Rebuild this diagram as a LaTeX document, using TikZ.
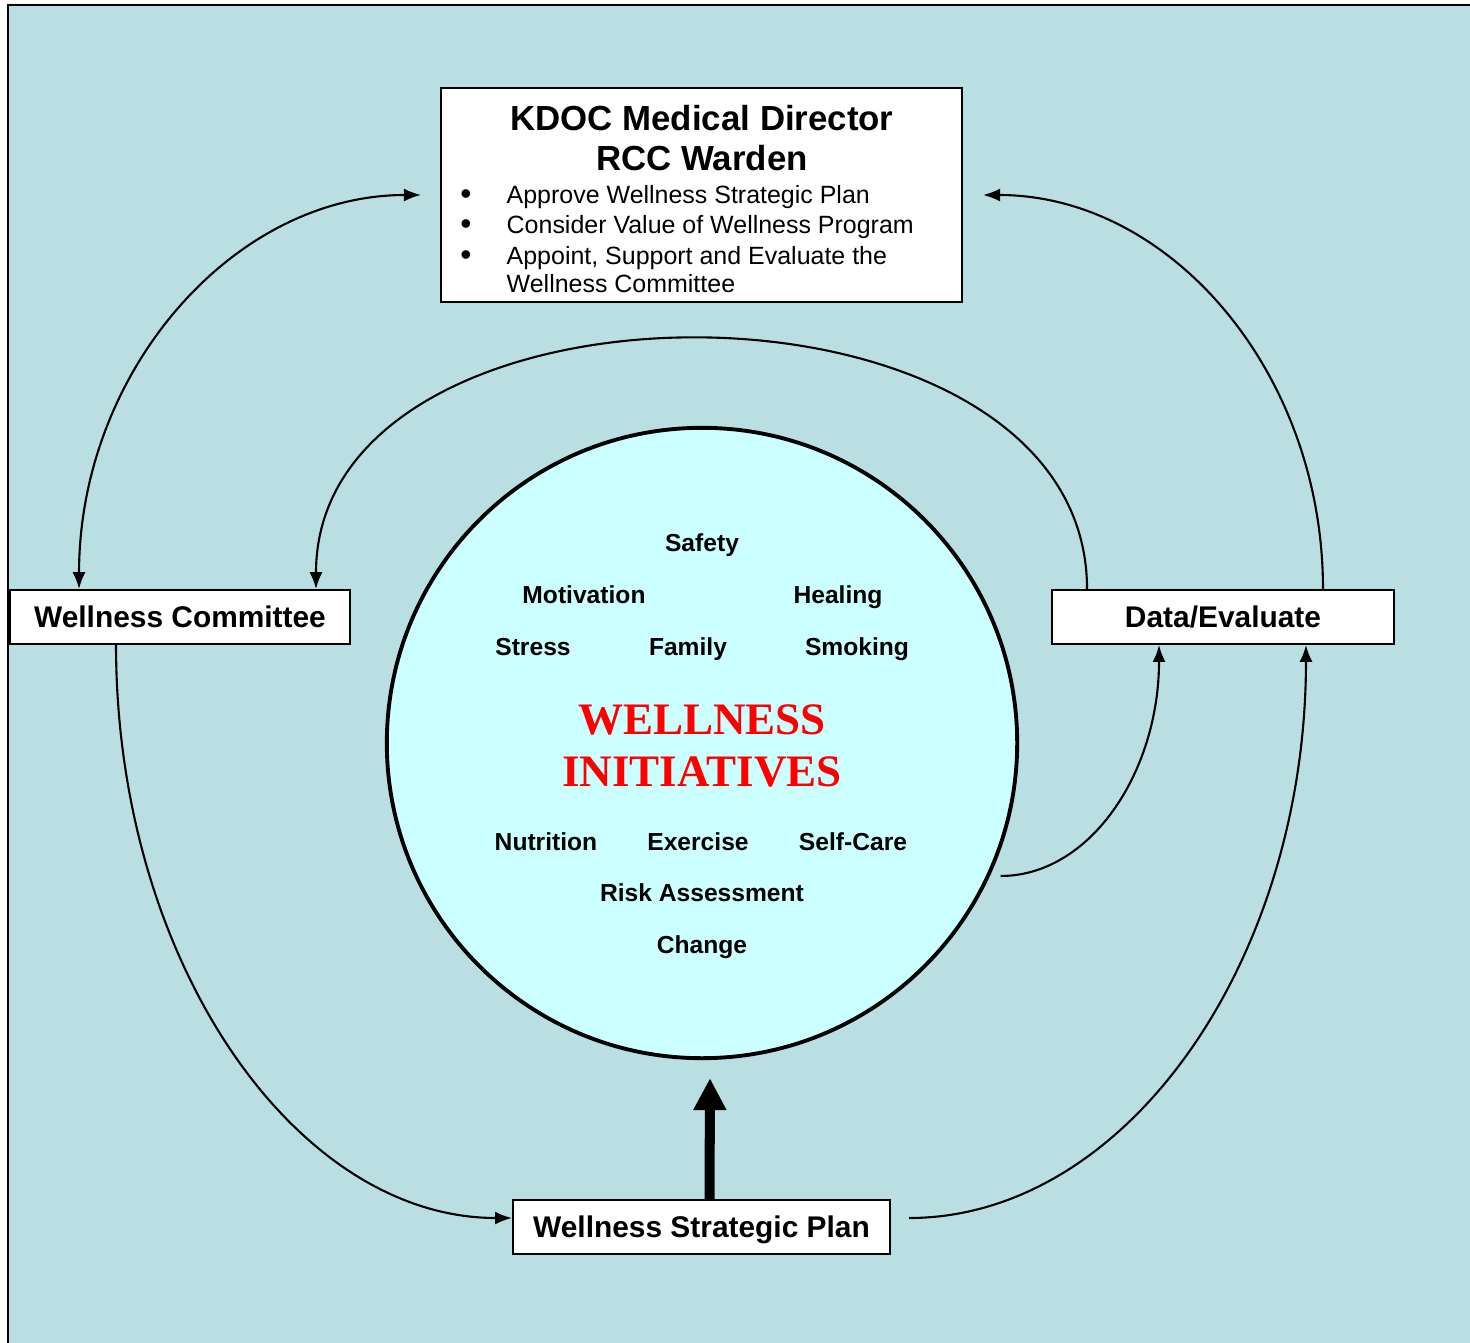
\documentclass[tikz,border=0pt]{standalone}
\usepackage{fontspec}
\setmainfont{Liberation Sans}
\newfontfamily\titlefont{Liberation Serif}
\usetikzlibrary{arrows.meta, calc}
\definecolor{panelblue}{HTML}{BADFE2}
\definecolor{circlecyan}{HTML}{CCFFFF}
\definecolor{titlered}{HTML}{FF0000}

\tikzset{
  box/.style={draw=black, fill=white, line width=0.5pt, inner sep=0pt,
    font=\fontsize{8.5}{10}\selectfont\bfseries, text height=6.1pt, text depth=0pt},
  link/.style={line width=0.6pt, ->},
  topic/.style={font=\fontsize{7}{8}\selectfont\bfseries, inner sep=0pt,
    text height=5pt, text depth=0pt},
  itemline/.style={font=\fontsize{7.1}{8.5}\selectfont, anchor=base west, inner sep=0pt},
}

\begin{document}
\begin{tikzpicture}[x=0.01cm, y=-0.01cm, >={Latex[length=1.7mm, width=1.3mm]}]

    \useasboundingbox (0,0) rectangle (1470,1343);

    % Panel behind everything
    \fill[panelblue] (8,5) rectangle (1470,1343);
    \draw[line width=0.8pt] (1470,5) -- (8,5) -- (8,1343);

    % Director box with its list
    \node[box, minimum width=5.21cm, minimum height=2.14cm] (director) at (701.5,195) {};
    \node[align=center, inner sep=0pt, font=\fontsize{9.9}{11.4}\selectfont\bfseries]
      (heads) at (702,138) {KDOC Medical Director\\RCC Warden};

    \foreach \ly/\txt [count=\i] in {204/Approve Wellness Strategic Plan,
        234/Consider Value of Wellness Program,
        265/{Appoint, Support and Evaluate the}} {
      \node[itemline, anchor=base, font=\fontsize{9}{9}\selectfont] (dot\i) at (466,\ly+1) {•};
      \node[itemline] (item\i) at (506,\ly) {\txt};
    }
    \node[itemline] (item4) at (506,293) {Wellness Committee};

    % Side and bottom boxes
    \node[box, minimum width=3.4cm, minimum height=0.54cm] (committee) at (180,617) {Wellness Committee};
    \node[box, minimum width=3.42cm, minimum height=0.54cm] (data) at (1223,617) {Data/Evaluate};
    \node[box, minimum width=3.77cm, minimum height=0.54cm] (plan) at (701.5,1227) {Wellness Strategic Plan};

    % Centre circle
    \node[circle, draw, line width=1.1pt, fill=circlecyan, minimum size=6.3cm, inner sep=0pt]
      (initiatives) at (702,743) {};

    \foreach \px/\py/\w [count=\i] in {702/543/Safety, 584/595/Motivation, 838/595/Healing,
        533/647/Stress, 688/647/Family, 857/647/Smoking,
        546/842/Nutrition, 698/842/Exercise, 853/842/Self-Care,
        702/893/Risk Assessment, 702/945/Change} {
      \node[topic] (topic\i) at (\px,\py) {\w};
    }

    \node[align=center, inner sep=0pt, text=titlered,
      font=\titlefont\fontsize{12.8}{14.8}\selectfont\bfseries]
      (title) at (702,746) {WELLNESS\\INITIATIVES};

    % Outer loops
    \draw[link, <->] ($(committee.north west)+(70,0)$)
      .. controls +(0,-217) and +(-188,0) .. ($(director.west)+(-19,0)$);
    \draw[link] ($(data.north east)+(-72,0)$)
      .. controls +(0,-217) and +(187,0) .. ($(director.east)+(20,0)$);

    % Inner arc
    \draw[link] ($(data.north west)+(36,0)$)
      .. controls +(0,-333) and +(0,-333) .. ($(committee.north east)+(-35,0)$);

    % Circle feeds the data
    \draw[link] ($(initiatives.-24)+(9,4)$)
      .. controls +(89,0) and +(0,128) .. ($(data.south west)+(108,0)$);

    % Bottom loops
    \draw[link] ($(committee.south west)+(107,0)$)
      .. controls +(0,316) and +(-217,0) .. ($(plan.west)+(0,-9)$);
    \draw[link] ($(plan.east)+(18,-9)$)
      .. controls +(218,0) and +(0,315) .. ($(data.south east)+(-89,0)$);

    % Plan drives the initiatives
    \draw[line width=2.85pt, -{Triangle[length=3.2mm, width=3.1mm]}]
      ($(plan.north)+(8,0)$) -- ($(initiatives.south)+(8,18)$);

  \end{tikzpicture}
\end{document}
